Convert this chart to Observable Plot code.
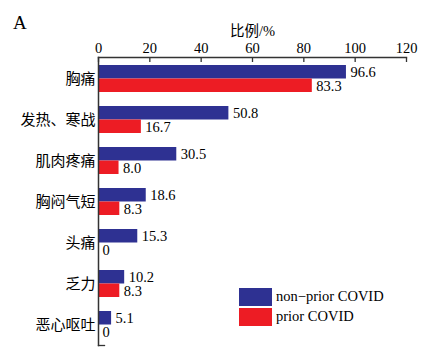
<!DOCTYPE html>
<html>
<head>
<meta charset="utf-8">
<script src="https://cdn.jsdelivr.net/npm/d3@7"></script>
<script src="https://cdn.jsdelivr.net/npm/@observablehq/plot@0.6"></script>
<style>
  html, body { margin: 0; padding: 0; background: #fff; }
  #wrap { position: relative; width: 429px; height: 353px; font-family: 'Liberation Serif', 'Noto Sans CJK SC', serif; color: #000; }
  #panel { position: absolute; left: 13px; top: 12px; font-size: 19px; }
  #legend { position: absolute; left: 239px; top: 287px; font-size: 14.5px; }
  .item { display: flex; align-items: center; height: 19px; margin-bottom: 1px; }
  .sw { width: 33px; height: 18px; margin-right: 4px; }
  svg text { font-family: 'Liberation Serif', 'Noto Sans CJK SC', serif; }
</style>
</head>
<body>
<div id="wrap"><div id="panel">A</div><div id="legend"></div></div>
<script>
const categories = ["胸痛", "发热、寒战", "肌肉疼痛", "胸闷气短", "头痛", "乏力", "恶心呕吐"];
const nonPrior = [96.6, 50.8, 30.5, 18.6, 15.3, 10.2, 5.1];
const prior = [83.3, 16.7, 8.0, 8.3, 0, 8.3, 0];
const seriesNames = ["non\u2212prior COVID", "prior COVID"];
const seriesColors = ["#2e3192", "#ed1c24"];
const xTicks = [0, 20, 40, 60, 80, 100, 120];
const xLabel = "比例/%";

const rowsA = categories.map((c, i) => ({category: c, value: nonPrior[i]}));
const rowsB = categories.map((c, i) => ({category: c, value: prior[i]}));
const fmt = v => v === 0 ? "0" : v.toFixed(1);
const font = "'Liberation Serif', 'Noto Sans CJK SC', serif";

const W = 429, mL = 98, mR = 23;
const chart = Plot.plot({
  width: W,
  height: 353,
  marginTop: 57,
  marginBottom: 8,
  marginLeft: mL,
  marginRight: mR,
  style: {fontFamily: font, fontSize: "14px", color: "#000", background: "transparent"},
  x: {domain: [0, 120], ticks: xTicks},
  y: {domain: categories, padding: 0},
  marks: [
    Plot.barX(rowsA, {x: "value", y: "category", fill: seriesColors[0], insetTop: 7, insetBottom: 20.5}),
    Plot.barX(rowsB, {x: "value", y: "category", fill: seriesColors[1], insetTop: 20.5, insetBottom: 7}),
    Plot.text(rowsA, {x: "value", y: "category", text: d => fmt(d.value), dy: -7, dx: 4, textAnchor: "start", fontSize: 14.5, fontFamily: font, fill: "#000"}),
    Plot.text(rowsB, {x: "value", y: "category", text: d => fmt(d.value), dy: 7, dx: 4, textAnchor: "start", fontSize: 14.5, fontFamily: font, fill: "#000"}),
    Plot.axisX(xTicks, {anchor: "top", tickSize: -4, tickPadding: 9, label: null, fontSize: 14.5, fontFamily: font, stroke: "#333", strokeWidth: 1.3}),
    Plot.axisY({tickSize: 0, tickPadding: 3, label: null, fontSize: 15, fontFamily: font}),
    Plot.frame({anchor: "top", stroke: "#333", strokeWidth: 1.5}),
    Plot.frame({anchor: "left", stroke: "#333", strokeWidth: 1.5}),
    Plot.frame({anchor: "bottom", stroke: "#333", strokeWidth: 1.3, insetRight: W - mL - mR - 6}),
    Plot.text([xLabel], {frameAnchor: "top", dy: -32, fontSize: 14.5, fontFamily: font, fill: "#000"})
  ]
});
document.getElementById("wrap").appendChild(chart);
chart.style.position = "absolute";
chart.style.left = "0px";
chart.style.top = "0px";

const legend = document.getElementById("legend");
seriesNames.forEach((name, i) => {
  const item = document.createElement("div");
  item.className = "item";
  const sw = document.createElement("div");
  sw.className = "sw";
  sw.style.background = seriesColors[i];
  const label = document.createElement("span");
  label.textContent = name;
  item.appendChild(sw);
  item.appendChild(label);
  legend.appendChild(item);
});
document.getElementById("wrap").appendChild(legend);
</script>
</body>
</html>
